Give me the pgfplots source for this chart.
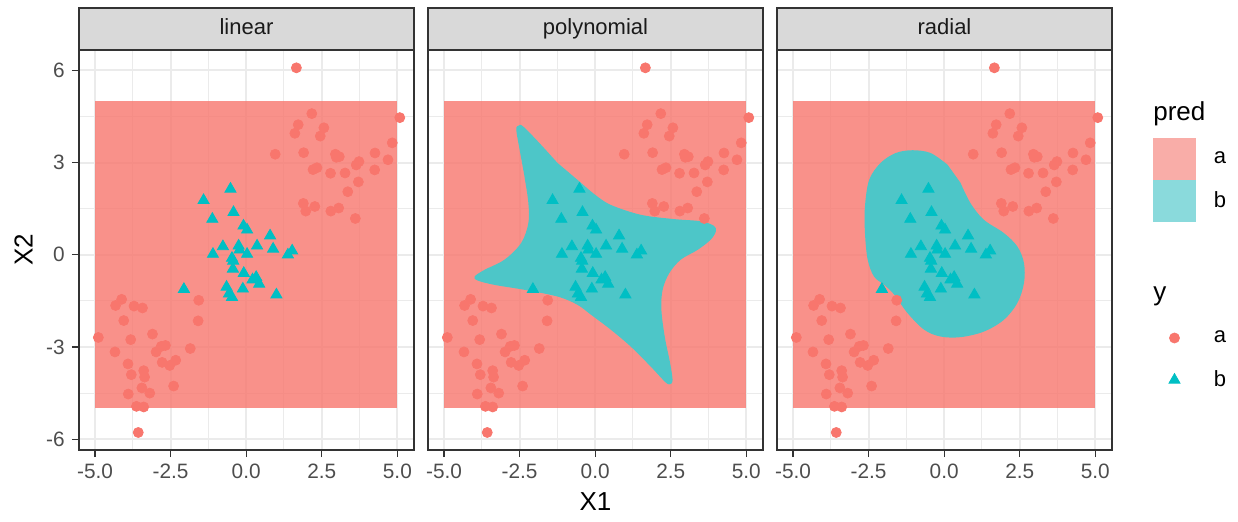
\documentclass[border=0pt]{standalone}
\usepackage{fontspec}
\setmainfont{Liberation Sans}
\usepackage{pgfplots}
\usepackage{pgfplotstable}
\pgfplotsset{compat=1.18}
\usepgfplotslibrary{groupplots}

\definecolor{ptA}{HTML}{F8766D}
\definecolor{ptB}{HTML}{00BFC4}
\definecolor{regB}{HTML}{4DC6C8}
\definecolor{keyA}{HTML}{F9ADA8}
\definecolor{keyB}{HTML}{8ADADC}
\definecolor{gridc}{HTML}{EBEBEB}
\definecolor{grey20}{HTML}{333333}
\definecolor{grey30}{HTML}{4D4D4D}
\definecolor{grey85}{HTML}{D9D9D9}
\definecolor{grey10}{HTML}{1A1A1A}

% observations, class a
\pgfplotstableread{
x y
1.66 6.08
5.08 4.46
2.17 4.59
1.72 4.23
1.61 3.95
2.57 4.13
2.45 3.86
4.83 3.64
0.96 3.27
1.90 3.32
2.95 3.27
3.08 3.19
2.98 3.17
4.26 3.31
4.69 3.09
3.73 3.03
3.64 2.92
2.21 2.77
2.34 2.83
2.79 2.65
3.27 2.66
4.25 2.76
3.71 2.37
3.36 2.05
1.89 1.67
1.97 1.42
2.27 1.57
2.80 1.42
3.06 1.52
3.61 1.18
-1.57 -1.48
-1.59 -2.15
-4.12 -1.45
-4.32 -1.65
-3.71 -1.67
-3.43 -1.73
-4.05 -2.14
-4.89 -2.69
-3.82 -2.76
-3.10 -2.58
-4.34 -3.16
-2.98 -3.16
-2.81 -2.98
-2.67 -2.95
-1.85 -3.05
-3.91 -3.55
-2.78 -3.50
-2.53 -3.60
-2.33 -3.43
-3.80 -3.90
-3.39 -3.77
-3.36 -3.98
-3.45 -4.33
-3.19 -4.50
-3.90 -4.53
-2.40 -4.27
-3.63 -4.93
-3.39 -4.95
-3.57 -5.78
}\ptsA

% observations, class b
\pgfplotstableread{
x y
-0.52 2.14
-1.41 1.77
-0.42 1.38
-1.12 1.16
-0.09 0.94
0.03 0.81
0.79 0.62
-0.77 0.27
-0.25 0.29
0.36 0.29
0.89 0.19
-1.10 0.02
-0.22 0.16
0.03 0.02
-0.47 -0.11
-0.43 -0.20
1.38 0.00
1.52 0.13
-0.44 -0.46
-0.08 -0.60
0.21 -0.81
0.33 -0.73
0.43 -0.95
-2.06 -1.12
-0.65 -1.05
-0.11 -1.11
-0.57 -1.27
-0.47 -1.38
1.00 -1.30
}\ptsB

% prediction grid, class a covers the whole square
\pgfplotstableread{
x y
-5 -5
5 -5
5 5
-5 5
}\gridA

% class b region, polynomial kernel
\pgfplotstableread{
x y
-0.47 2.34
0.00 1.95
0.52 1.62
1.51 1.30
2.61 1.16
3.49 1.09
3.93 0.94
3.99 0.76
3.82 0.49
3.39 0.16
2.83 -0.16
2.45 -0.60
2.23 -1.14
2.19 -1.79
2.30 -2.66
2.48 -3.53
2.56 -4.07
2.50 -4.20
2.34 -4.16
1.84 -3.64
1.18 -2.99
0.52 -2.44
-0.14 -1.95
-0.60 -1.62
-1.24 -1.36
-2.34 -1.14
-3.33 -0.98
-3.88 -0.84
-3.99 -0.71
-3.66 -0.49
-3.00 -0.16
-2.45 0.38
-2.21 1.03
-2.21 1.68
-2.34 2.55
-2.50 3.42
-2.61 4.07
-2.53 4.20
-2.39 4.18
-1.85 3.64
-1.25 2.99
}\polyB

% class b region, radial kernel
\pgfplotstableread{
x y
0.54 2.34
0.87 1.68
1.31 1.14
1.97 0.71
2.42 0.27
2.64 -0.27
2.64 -0.92
2.42 -1.57
1.97 -2.12
1.31 -2.50
0.54 -2.68
-0.12 -2.66
-0.66 -2.44
-1.21 -1.90
-1.65 -1.30
-1.98 -0.98
-2.32 -0.71
-2.53 -0.16
-2.62 0.71
-2.62 1.57
-2.48 2.44
-2.10 2.99
-1.60 3.31
-1.05 3.40
-0.45 3.31
0.11 2.93
}\radB

\pgfplotsset{
  keylegend/.style={
    draw=none, fill=none, inner sep=0pt, outer sep=0pt,
    row sep=0pt, column sep=7pt, cells={anchor=west},
    font=\fontsize{11}{13}\selectfont},
}

\begin{document}
\begin{tikzpicture}
\begin{groupplot}[
  group style={group size=3 by 1, horizontal sep=7pt, y descriptions at=edge left},
  width=167.5pt, height=200pt, scale only axis,
  xmin=-5.53, xmax=5.55, ymin=-6.35, ymax=6.66,
  xtick={-5,-2.5,0,2.5,5}, xticklabels={-5.0,-2.5,0.0,2.5,5.0},
  ytick={-6,-3,0,3,6}, yticklabels={-6,-3,0,3,6},
  minor xtick={-3.75,-1.25,1.25,3.75},
  minor ytick={-4.5,-1.5,1.5,4.5},
  grid=both,
  major grid style={draw=gridc, line width=1pt},
  minor grid style={draw=gridc, line width=0.5pt},
  tick align=outside, tick pos=left,
  major tick length=3.6pt, minor tick length=0pt,
  tick style={draw=grey20, line width=0.55pt},
  axis line style={draw=grey20, line width=0.55pt},
  ticklabel style={font=\fontsize{10.4}{12}\selectfont, text=grey30},
  /pgf/number format/assume math mode=true,
  every axis title shift=0pt,
  title style={at={(0.5,1)}, anchor=south, draw=grey20, line width=0.55pt,
    fill=grey85, minimum width=167.5pt, minimum height=21pt, inner sep=0pt,
    outer sep=0pt, text height=7.8pt, text depth=2.2pt, yshift=0pt,
    font=\fontsize{11}{13}\selectfont, text=grey10},
  label style={font=\fontsize{13}{15}\selectfont},
]
\nextgroupplot[title=linear, ylabel=X2]
\addplot[draw=none, fill=ptA, fill opacity=0.8] table {\gridA} -- cycle;
\addplot[only marks, mark=*, mark size=2.5pt, color=ptA] table {\ptsA};
\addplot[only marks, mark=triangle*, mark size=3.2pt, color=ptB] table {\ptsB};

\nextgroupplot[title=polynomial, xlabel=X1, ytick style={draw=none}]
\addplot[draw=none, fill=ptA, fill opacity=0.8] table {\gridA} -- cycle;
\addplot[draw=none, fill=regB, smooth, tension=0.55] table {\polyB} -- cycle;
\addplot[only marks, mark=*, mark size=2.5pt, color=ptA] table {\ptsA};
\addplot[only marks, mark=triangle*, mark size=3.2pt, color=ptB] table {\ptsB};

\nextgroupplot[title=radial, ytick style={draw=none},
  legend style={keylegend, at={(1.1224,0.78)}, anchor=north west},
  legend image code/.code={\fill[#1] (0pt,-10.5pt) rectangle (21.5pt,10.5pt);}]
\addlegendimage{fill=keyA, draw=none}
\addlegendentry{a}
\addlegendimage{fill=keyB, draw=none}
\addlegendentry{b}
\addplot[forget plot, draw=none, fill=ptA, fill opacity=0.8] table {\gridA} -- cycle;
\addplot[forget plot, draw=none, fill=regB, smooth, tension=0.55] table {\radB} -- cycle;
\addplot[forget plot, only marks, mark=*, mark size=2.5pt, color=ptA] table {\ptsA};
\addplot[forget plot, only marks, mark=triangle*, mark size=3.2pt, color=ptB] table {\ptsB};
\end{groupplot}

% second legend (y)
\begin{axis}[at={(group c3r1.south west)}, anchor=south west,
  width=167.5pt, height=200pt, scale only axis, hide axis,
  xmin=0, xmax=1, ymin=0, ymax=1,
  legend style={keylegend, at={(1.1224,0.3325)}, anchor=north west},
  legend image code/.code={\path[draw=none, fill=none] (0pt,-10.5pt) rectangle (21.5pt,10.5pt);
    \draw[#1] plot coordinates {(10.75pt,0pt)};}]
\addlegendimage{only marks, mark=*, mark size=2.5pt, color=ptA}
\addlegendentry{a}
\addlegendimage{only marks, mark=triangle*, mark size=3.2pt, color=ptB}
\addlegendentry{b}
\end{axis}

\node[anchor=base west, inner sep=0pt, font=\fontsize{13}{15}\selectfont]
  at ([shift={(20.5pt,-35.3pt)}]group c3r1.north east) {pred};
\node[anchor=base west, inner sep=0pt, font=\fontsize{13}{15}\selectfont]
  at ([shift={(20.5pt,-125.5pt)}]group c3r1.north east) {y};

\pgfresetboundingbox
\path[use as bounding box] ([shift={(-39.5pt,-35.5pt)}]group c1r1.south west)
  rectangle ++(619pt,260.5pt);
\end{tikzpicture}
\end{document}
